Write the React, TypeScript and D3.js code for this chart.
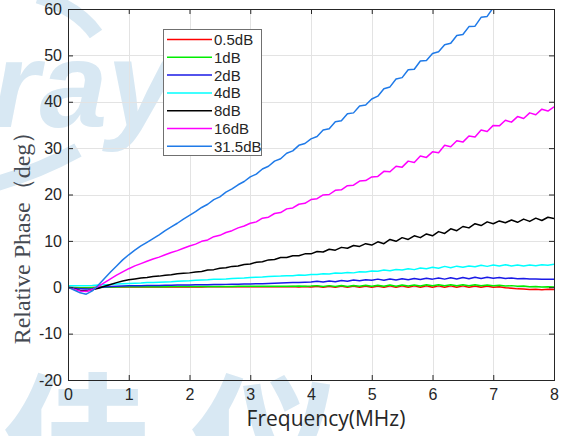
import React, { useEffect, useRef } from 'react';
import * as d3 from 'd3';

// sample grid, 0.1 MHz step
const freq = d3.range(0, 81).map(i => i / 10);

const seriesNames = ['0.5dB', '1dB', '2dB', '4dB', '8dB', '16dB', '31.5dB'];
const seriesColors = ['#ff0000', '#00ee00', '#1a1ae6', '#00ffff', '#000000', '#ff00ff', '#1f7ae8'];

const ph05 = [0, -0.05, -0.1, -0.1, -0.05, 0, 0, 0.02, 0.03, 0.04, 0.05,
  0.05, 0.05, 0.06, 0.06, 0.06, 0.07, 0.07, 0.07, 0.08, 0.08,
  0.08, 0.08, 0.09, 0.09, 0.09, 0.1, 0.1, 0.1, 0.1, 0.1,
  0.1, 0.1, 0.1, 0.1, 0.12, 0.1, 0.14, 0.08, 0.15, 0.08,
  0.2, 0.0, 0.22, 0.0, 0.25, -0.02, 0.25, 0.0, 0.28, 0.0,
  0.28, -0.02, 0.3, 0.0, 0.3, 0.0, 0.3, 0.0, 0.32, 0.02,
  0.3, 0.0, 0.3, 0.02, 0.3, 0.0, 0.28, 0.0, 0.25, 0.0,
  0.1, -0.1, -0.2, -0.35, -0.4, -0.5, -0.45, -0.55, -0.45, -0.5];

const ph1 = [0, -0.1, -0.15, -0.15, -0.1, -0.05, 0, 0.05, 0.05, 0.1, 0.1,
  0.1, 0.1, 0.12, 0.12, 0.13, 0.13, 0.14, 0.14, 0.15, 0.15,
  0.15, 0.16, 0.16, 0.17, 0.17, 0.18, 0.18, 0.19, 0.19, 0.2,
  0.2, 0.2, 0.2, 0.2, 0.2, 0.22, 0.2, 0.25, 0.2, 0.25,
  0.35, 0.15, 0.35, 0.15, 0.4, 0.15, 0.4, 0.2, 0.45, 0.2,
  0.45, 0.2, 0.5, 0.2, 0.5, 0.25, 0.5, 0.25, 0.55, 0.3,
  0.55, 0.3, 0.55, 0.3, 0.55, 0.3, 0.55, 0.3, 0.5, 0.3,
  0.45, 0.25, 0.35, 0.2, 0.25, 0.1, 0.15, 0.05, 0.1, 0.05];

const ph2 = [0, -0.2, -0.35, -0.4, -0.3, -0.1, 0.05, 0.15, 0.2, 0.25, 0.3,
  0.32, 0.34, 0.36, 0.38, 0.4, 0.42, 0.44, 0.46, 0.48, 0.5,
  0.52, 0.54, 0.56, 0.58, 0.6, 0.62, 0.64, 0.66, 0.68, 0.7,
  0.75, 0.78, 0.82, 0.86, 0.9, 0.95, 1.0, 1.05, 1.1, 1.15,
  1.3, 1.15, 1.35, 1.2, 1.45, 1.3, 1.55, 1.4, 1.6, 1.5,
  1.75, 1.5, 1.8, 1.55, 1.85, 1.6, 1.9, 1.65, 1.95, 1.75,
  2.0, 1.75, 2.05, 1.8, 2.1, 1.85, 2.15, 1.9, 2.15, 1.95,
  2.1, 1.9, 2.0, 1.85, 1.9, 1.8, 1.8, 1.75, 1.75, 1.7];

const ph4 = [0.3, 0.3, 0.3, 0.35, 0.4, 0.5, 0.55, 0.6, 0.7, 0.75, 0.8,
  0.85, 0.9, 1.0, 1.05, 1.1, 1.15, 1.2, 1.3, 1.35, 1.4,
  1.5, 1.55, 1.6, 1.7, 1.75, 1.8, 1.9, 1.95, 2.0, 2.1,
  2.15, 2.2, 2.3, 2.35, 2.4, 2.5, 2.5, 2.65, 2.6, 2.75,
  2.75, 2.9, 2.85, 3.05, 3.0, 3.2, 3.1, 3.35, 3.3, 3.5,
  3.45, 3.7, 3.55, 3.85, 3.7, 4.0, 3.8, 4.15, 4.0, 4.3,
  4.1, 4.5, 4.2, 4.55, 4.3, 4.6, 4.4, 4.75, 4.5, 4.8,
  4.6, 4.85, 4.6, 4.8, 4.6, 4.8, 4.65, 4.85, 4.75, 4.95];

const ph8 = [0, -0.4, -0.7, -0.8, -0.55, -0.2, 0.2, 0.6, 1.0, 1.35, 1.6,
  1.8, 2.0, 2.1, 2.3, 2.4, 2.6, 2.7, 2.9, 3.0, 3.1,
  3.3, 3.4, 3.7, 3.8, 4.1, 4.2, 4.5, 4.6, 4.9, 5.0,
  5.4, 5.5, 5.9, 6.0, 6.4, 6.4, 6.8, 6.8, 7.2, 7.2,
  7.7, 7.6, 8.2, 8.0, 8.6, 8.4, 9.0, 8.8, 9.4, 9.1,
  9.8, 9.4, 10.3, 9.9, 10.7, 10.3, 11.1, 10.7, 11.5, 11.1,
  12.0, 11.6, 12.6, 12.2, 13.1, 12.8, 13.7, 13.3, 14.1, 13.7,
  14.3, 13.9, 14.5, 14.0, 14.7, 14.2, 14.9, 14.4, 15.1, 14.8];

const ph16 = [0, -0.4, -0.8, -0.9, -0.5, 0.2, 1.0, 1.8, 2.6, 3.3, 4.0,
  4.6, 5.1, 5.6, 6.1, 6.5, 7.0, 7.5, 7.9, 8.4, 8.9,
  9.3, 9.9, 10.2, 10.9, 11.2, 11.8, 12.2, 12.8, 13.2, 13.8,
  14.1, 14.9, 15.1, 15.9, 16.1, 16.9, 17.1, 17.9, 18.1, 18.9,
  19.1, 19.9, 20.0, 20.9, 21.0, 21.9, 22.0, 22.9, 23.0, 23.8,
  23.9, 25.0, 24.9, 26.1, 25.9, 27.2, 26.9, 28.3, 28.0, 29.2,
  29.0, 30.6, 30.3, 31.6, 31.3, 32.6, 32.4, 33.9, 33.6, 34.9,
  34.8, 36.0, 35.6, 36.8, 36.4, 37.6, 37.2, 38.4, 38.0, 38.9];

// 31.5dB leaves the plot top near 7 MHz
const ph315 = [0, -0.6, -1.2, -1.5, -0.8, 0.5, 1.9, 3.3, 4.6, 5.9, 7.0,
  8.0, 8.9, 9.7, 10.5, 11.3, 12.2, 13.0, 13.8, 14.7, 15.5,
  16.3, 17.2, 17.9, 18.9, 19.5, 20.5, 21.2, 22.1, 22.8, 23.8,
  24.4, 25.5, 26.1, 27.2, 27.7, 28.9, 29.4, 30.6, 31.0, 32.0,
  32.5, 33.9, 34.2, 35.7, 35.9, 37.4, 37.6, 39.1, 39.3, 40.6,
  41.2, 42.8, 43.2, 44.9, 45.2, 46.9, 47.0, 48.8, 48.9, 50.4,
  50.8, 52.3, 52.6, 54.3, 54.5, 56.2, 56.3, 58.2, 58.4, 60.3,
  61.0, 62.5];

const seriesValues = [ph05, ph1, ph2, ph4, ph8, ph16, ph315];

const xTicks = [0, 1, 2, 3, 4, 5, 6, 7, 8];
const yTicks = [-20, -10, 0, 10, 20, 30, 40, 50, 60];

const W = 561;
const H = 436;
const left = 68, right = 554, top = 9, bottom = 380;
const wm = '#d8e8f3'; // watermark blue

const App = () => {
  const svgRef = useRef(null);

  useEffect(() => {
    const svg = d3.select(svgRef.current);
    svg.selectAll('*').remove();

    const x = d3.scaleLinear().domain([0, 8]).range([left, right]);
    const y = d3.scaleLinear().domain([-20, 60]).range([bottom, top]);

    // watermark
    const w = svg.append('g');
    w.append('path').attr('d', 'M 38,-4 Q 78,8 96,34').attr('fill', 'none').attr('stroke', wm).attr('stroke-width', 15);
    w.append('path').attr('d', 'M -5,184 Q 38,172 78,150').attr('fill', 'none').attr('stroke', wm).attr('stroke-width', 15);
    w.append('text').attr('x', -8).attr('y', 127)
      .style('font-family', 'Liberation Sans, Arial, sans-serif').style('font-size', '122px')
      .style('font-weight', 'bold').style('font-style', 'italic').attr('fill', wm).text('ray');
    w.append('text').attr('x', 2).attr('y', 500)
      .style('font-family', 'Noto Sans CJK SC, sans-serif').style('font-size', '150px')
      .style('font-weight', 'bold').attr('fill', wm).text('佳');
    w.append('text').attr('x', 190).attr('y', 500)
      .style('font-family', 'Noto Sans CJK SC, sans-serif').style('font-size', '150px')
      .style('font-weight', 'bold').attr('fill', wm).text('仪');

    // grid
    const grid = svg.append('g').attr('stroke', '#e3e3e3').attr('stroke-width', 1);
    grid.selectAll('.gx').data(xTicks.slice(1, -1)).join('line')
      .attr('x1', d => Math.round(x(d)) + 0.5).attr('x2', d => Math.round(x(d)) + 0.5)
      .attr('y1', top).attr('y2', bottom);
    grid.selectAll('.gy').data(yTicks.slice(1, -1)).join('line')
      .attr('y1', d => Math.round(y(d)) + 0.5).attr('y2', d => Math.round(y(d)) + 0.5)
      .attr('x1', left).attr('x2', right);

    // lines
    svg.append('clipPath').attr('id', 'plotclip').append('rect')
      .attr('x', left).attr('y', top).attr('width', right - left).attr('height', bottom - top);
    const line = d3.line<number>().x((d, i) => x(freq[i])).y(d => y(d));
    const lines = svg.append('g').attr('clip-path', 'url(#plotclip)');
    seriesValues.forEach((vals, k) => {
      lines.append('path').attr('d', line(vals)).attr('fill', 'none')
        .attr('stroke', seriesColors[k]).attr('stroke-width', 1.5).attr('stroke-linejoin', 'round');
    });

    // axes
    const font = 'Liberation Sans, Arial, sans-serif';
    const fmt = d => String(d);
    const styleAxis = g => {
      g.select('.domain').remove();
      g.selectAll('line').attr('stroke', '#262626');
      g.selectAll('text').style('font-family', font).style('font-size', '16px').attr('fill', '#262626');
    };
    svg.append('g').attr('transform', `translate(0,${bottom})`)
      .call(d3.axisBottom(x).tickValues(xTicks).tickFormat(fmt).tickSize(-5).tickPadding(9)).call(styleAxis);
    svg.append('g').attr('transform', `translate(${left},0)`)
      .call(d3.axisLeft(y).tickValues(yTicks).tickFormat(fmt).tickSize(-5).tickPadding(6)).call(styleAxis);
    svg.append('g').attr('transform', `translate(0,${top})`)
      .call(d3.axisTop(x).tickValues(xTicks).tickSize(-5).tickFormat(() => '')).call(styleAxis);
    svg.append('g').attr('transform', `translate(${right},0)`)
      .call(d3.axisRight(y).tickValues(yTicks).tickSize(-5).tickFormat(() => '')).call(styleAxis);
    svg.append('rect').attr('x', left + 0.5).attr('y', top + 0.5)
      .attr('width', right - left).attr('height', bottom - top)
      .attr('fill', 'none').attr('stroke', '#262626').attr('stroke-width', 1);

    // labels
    svg.append('text').attr('x', 326).attr('y', 426).attr('text-anchor', 'middle')
      .style('font-family', 'Open Sans, Noto Sans, sans-serif').style('font-size', '21px')
      .attr('fill', '#262626').text('Frequency(MHz)');
    svg.append('text').attr('transform', 'translate(30,232) rotate(-90)').attr('text-anchor', 'middle')
      .style('font-family', 'Liberation Serif, Times New Roman, serif').style('font-size', '24px')
      .attr('fill', '#454a52').text('Relative Phase（deg）');

    // legend
    const lg = svg.append('g').attr('transform', 'translate(163,29)');
    lg.append('rect').attr('x', 0.5).attr('y', 0.5).attr('width', 98).attr('height', 126)
      .attr('fill', '#ffffff').attr('stroke', '#707070').attr('stroke-width', 1);
    seriesNames.forEach((name, k) => {
      const yy = 10.5 + k * 17.8;
      lg.append('line').attr('x1', 4).attr('x2', 49).attr('y1', yy).attr('y2', yy)
        .attr('stroke', seriesColors[k]).attr('stroke-width', 1.5);
      lg.append('text').attr('x', 51).attr('y', yy + 5.5)
        .style('font-family', font).style('font-size', '15px').attr('fill', '#262626').text(name);
    });
  }, []);

  return (
    <div style={{ position: 'absolute', left: 0, top: 0 }}>
      <svg ref={svgRef} width={W} height={H} style={{ display: 'block' }}></svg>
    </div>
  );
};

export default App;
